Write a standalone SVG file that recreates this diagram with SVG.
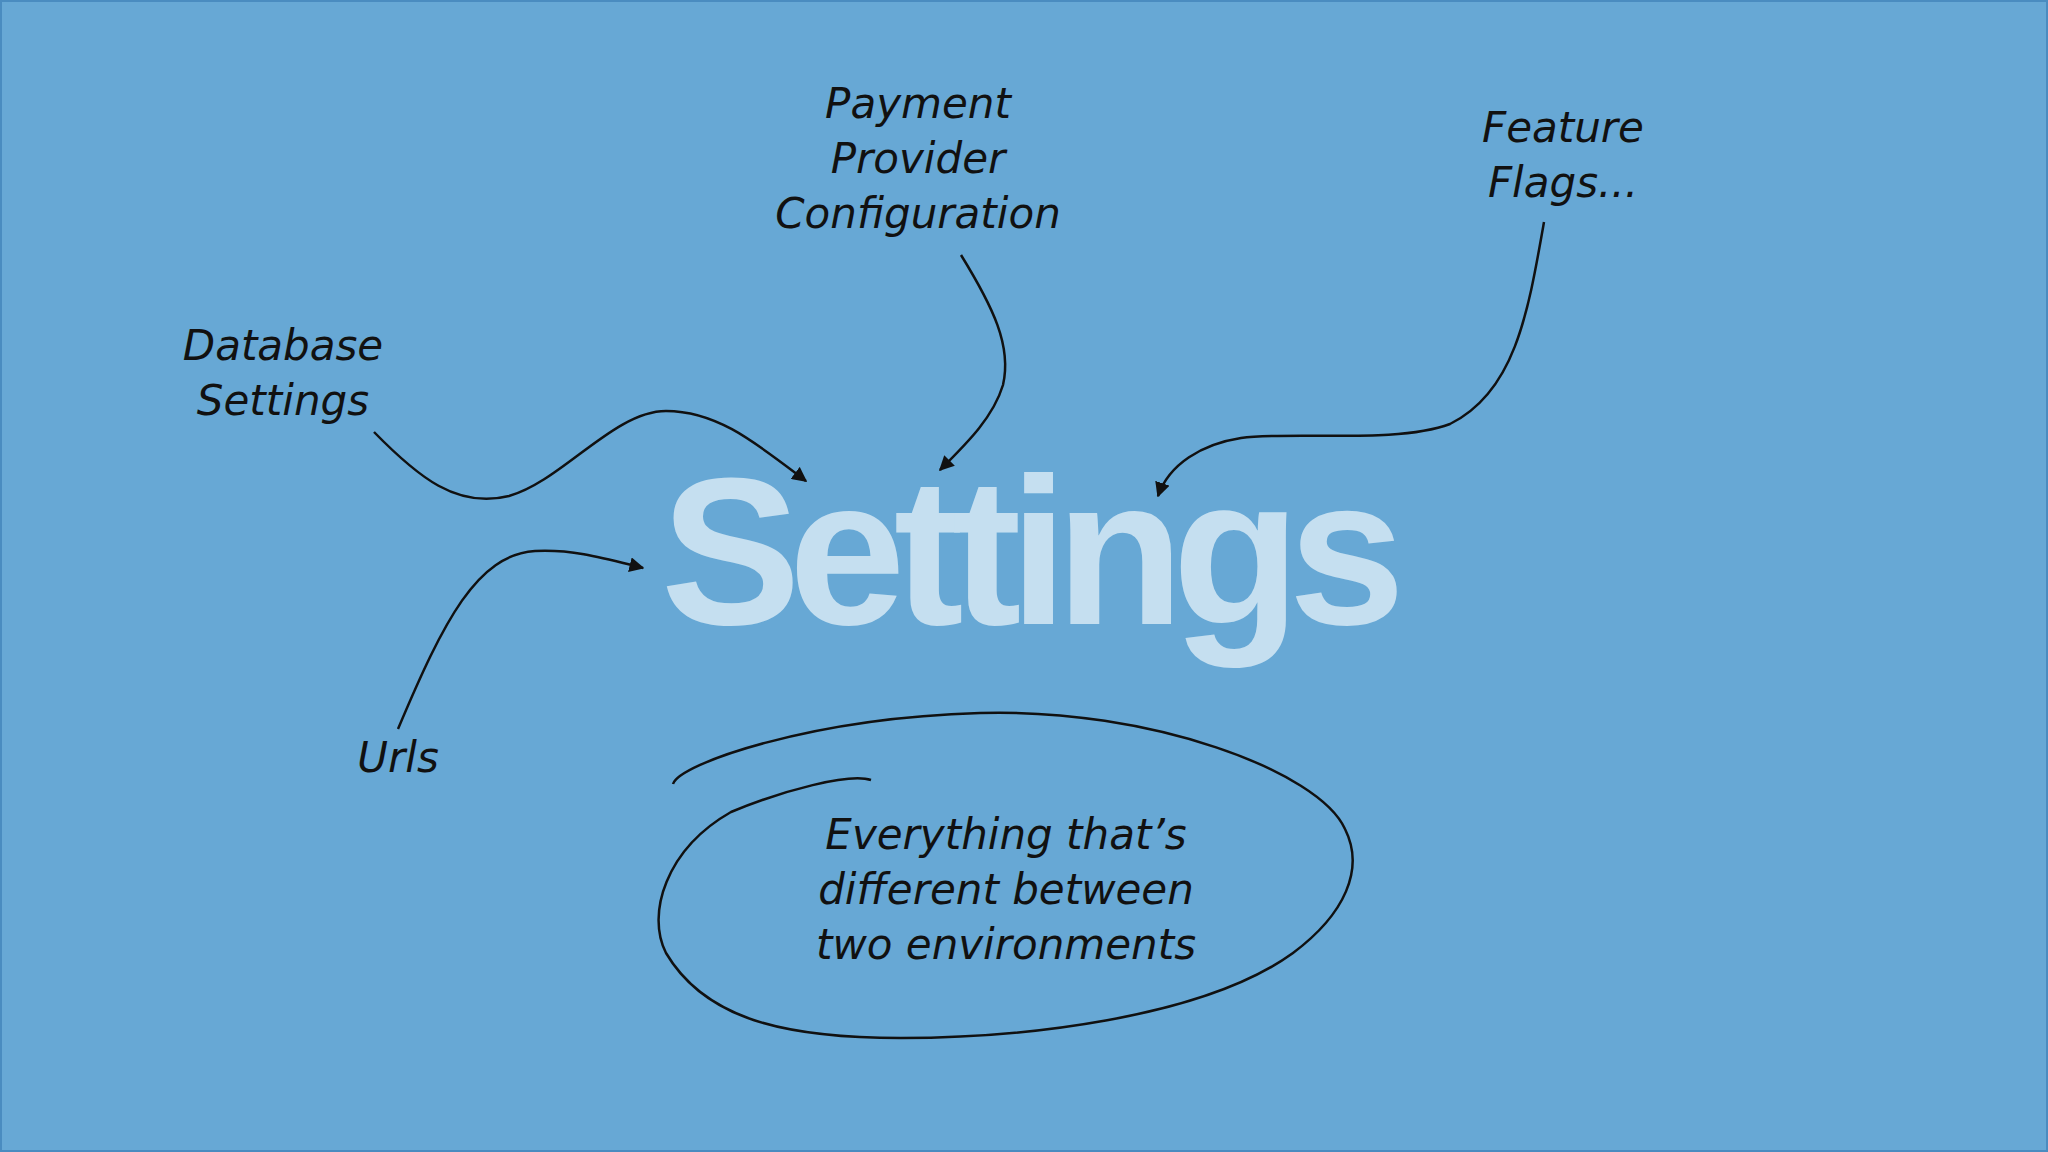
<svg xmlns="http://www.w3.org/2000/svg" width="2048" height="1152" viewBox="0 0 2048 1152">
<defs>
<style>
.h{font-family:"DejaVu Sans","Liberation Sans",sans-serif;font-style:italic;font-size:42px;fill:#111;text-anchor:middle}
.c{fill:none;stroke:#111;stroke-width:2.5}
</style>
<marker id="a" viewBox="0 0 10 10" refX="9" refY="5" markerWidth="6" markerHeight="6" orient="auto"><path d="M0,0 L10,5 L0,10 z" fill="#111"/></marker>
</defs>
<rect x="1" y="1" width="2046" height="1150" fill="#67a8d5" stroke="#4a8cc0" stroke-width="2"/>
<g id="settings"><text x="1027" y="624" font-family="Liberation Sans,Arial,sans-serif" font-weight="bold" font-size="210" letter-spacing="-12" fill="#c5dff0" text-anchor="middle">Settings</text></g>
<g id="payment"><text class="h" x="918" y="118">Payment</text><text class="h" x="918" y="173">Provider</text><text class="h" x="918" y="228">Configuration</text></g>
<g id="feature"><text class="h" x="1563" y="142">Feature</text><text class="h" x="1563" y="197">Flags...</text></g>
<g id="database"><text class="h" x="283" y="360">Database</text><text class="h" x="283" y="415">Settings</text></g>
<g id="urls"><text class="h" x="398" y="772">Urls</text></g>
<g id="note"><text class="h" x="1006" y="849">Everything that’s</text><text class="h" x="1006" y="904">different between</text><text class="h" x="1006" y="959">two environments</text></g>
<g id="connectors">
<path class="c" marker-end="url(#a)" d="M374,432 C418,477 457,509 509,496 C562,481 614,411 666,411 C718,411 757,444 806,481"/>
<path class="c" marker-end="url(#a)" d="M961,255 C993,307 1012,346 1003,385 C993,418 966,444 940,470"/>
<path class="c" marker-end="url(#a)" d="M1544,222 C1528,313 1515,392 1450,424 C1397,444 1293,431 1241,438 C1202,444 1169,464 1158,496"/>
<path class="c" marker-end="url(#a)" d="M398,729 C444,620 477,555 535,551 C575,549 607,559 643,568"/>
<path class="c" d="M673,784 C679,764 810,718 980,713 C1149,708 1319,771 1345,829 C1365,869 1345,914 1293,953 C1202,1019 1019,1038 901,1038 C784,1038 705,1019 666,953 C646,914 666,849 731,812 C784,790 849,773 871,780"/>
</g>
</svg>
